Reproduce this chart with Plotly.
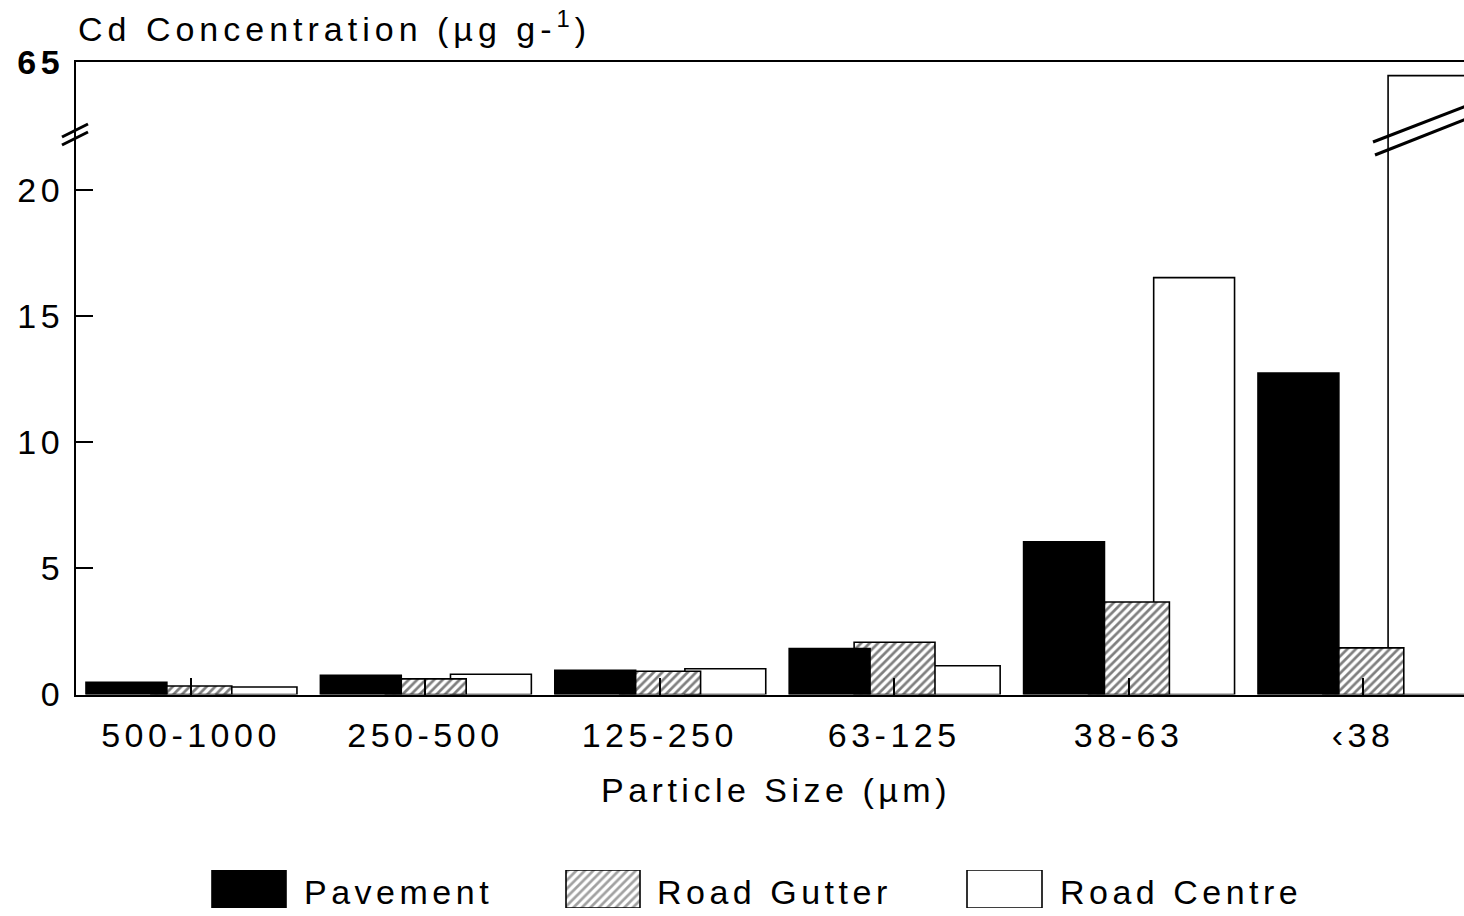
import plotly.graph_objects as go

# Cd concentration by particle size fraction (µg g-1)
size_classes = ["500-1000", "250-500", "125-250", "63-125", "38-63", "‹38"]
pavement = [0.48, 0.76, 0.96, 1.82, 6.05, 12.75]
road_gutter = [0.34, 0.62, 0.92, 2.07, 3.67, 1.85]
road_centre = [0.30, 0.80, 1.02, 1.14, 16.53, 64.0]

y_ticks_low = [0, 5, 10, 15, 20]
y_ticks_high = [65]

W, H = 1464, 916
FONT = "Liberation Sans"
SP = "letter-spacing:4.5px"


def spaced(t, sp=SP):
    return f'<span style="{sp}">{t}</span>'


def px_x(p):
    return p / W


def px_y(p):
    return 1 - p / H


# plot frame (pixels)
x_left = 76
y_zero, y_break, y_top = 694.5, 130, 62
unit_px = 25.22
cat_px = 234.4
first_tick = 191

x_range = [-(first_tick - x_left) / cat_px, -(first_tick - x_left) / cat_px + (W - x_left) / cat_px]
low_range = [0, (y_zero - y_break) / unit_px]
high_range = [60, 65]

bar_w = 0.345
offsets = {"Road Centre": 0.107, "Road Gutter": -0.171, "Pavement": -0.448}
hatch = dict(shape="/", fgcolor="black", bgcolor="white", size=6, solidity=0.45)
styles = {
    "Pavement": dict(color="black", pattern=dict(shape="")),
    "Road Gutter": dict(color="white", pattern=hatch),
    "Road Centre": dict(color="white", pattern=dict(shape="")),
}
series = [("Road Centre", road_centre), ("Road Gutter", road_gutter), ("Pavement", pavement)]

fig = go.Figure()
for xa, ya in (("x", "y"), ("x2", "y2")):
    for name, vals in series:
        st = styles[name]
        fig.add_trace(go.Bar(
            x=size_classes, y=vals, name=name, xaxis=xa, yaxis=ya,
            width=bar_w, offset=offsets[name], showlegend=False,
            marker=dict(color=st["color"], pattern=st["pattern"],
                        line=dict(color="black", width=1.6)),
        ))

# legend swatches on their own pixel-scaled axis
legend_names = ["Pavement", "Road Gutter", "Road Centre"]
fig.add_trace(go.Bar(
    x=[249, 603, 1004.5], y=[1, 1, 1], width=[74, 74, 75],
    xaxis="x3", yaxis="y3", showlegend=False, hoverinfo="skip",
    marker=dict(color=["black", "white", "white"],
                pattern=dict(shape=["", "/", ""], fgcolor="black", bgcolor="white",
                             size=hatch["size"], solidity=hatch["solidity"]),
                line=dict(color="black", width=1.6)),
))

tick_font = dict(family=FONT, size=34, color="black")
fig.update_layout(
    width=W, height=H,
    margin=dict(l=0, r=0, t=0, b=0),
    paper_bgcolor="white", plot_bgcolor="rgba(0,0,0,0)",
    barmode="overlay",
    font=dict(family=FONT, color="black"),
    xaxis=dict(domain=[px_x(x_left), 1], anchor="y", range=x_range,
               type="category", categoryorder="array", categoryarray=size_classes,
               tickvals=size_classes, ticktext=[spaced(c) for c in size_classes],
               showline=True, linecolor="black", linewidth=2,
               ticks="inside", ticklen=17, tickwidth=2, tickcolor="black",
               tickfont=tick_font, ticklabelstandoff=10,
               showgrid=False, zeroline=False, automargin=False),
    yaxis=dict(domain=[px_y(y_zero), px_y(y_break)], anchor="x", range=low_range,
               tickvals=y_ticks_low, ticktext=[spaced(v) for v in y_ticks_low],
               showline=True, linecolor="black", linewidth=2,
               ticks="inside", ticklen=17, tickwidth=2, tickcolor="black",
               tickfont=tick_font, ticklabelstandoff=3,
               showgrid=False, zeroline=False, automargin=False),
    xaxis2=dict(domain=[px_x(x_left), 1], anchor="y2", range=x_range, matches="x",
                type="category", side="top", showticklabels=False, ticks="",
                showline=True, linecolor="black", linewidth=2,
                showgrid=False, zeroline=False, automargin=False),
    yaxis2=dict(domain=[px_y(y_break), px_y(y_top)], anchor="x2", range=high_range,
                tickvals=y_ticks_high, ticktext=[spaced(f"<b>{v}</b>") for v in y_ticks_high],
                showline=True, linecolor="black", linewidth=2, ticks="",
                tickfont=tick_font, ticklabelstandoff=3,
                showgrid=False, zeroline=False, automargin=False),
    xaxis3=dict(domain=[0, 1], anchor="y3", range=[0, W], visible=False, fixedrange=True),
    yaxis3=dict(domain=[px_y(908), px_y(870)], anchor="x3", range=[0, 1], visible=False,
                fixedrange=True),
)

# axis break marks on the y axis and across the tall bar
breaks = [
    ((62, 137), (88, 124)), ((62, 145), (88, 132)),
    ((1373, 142), (1466, 106)), ((1375, 155), (1466, 119)),
]
for (x0, y0), (x1, y1) in breaks:
    fig.add_shape(type="line", xref="paper", yref="paper",
                  x0=px_x(x0), y0=px_y(y0), x1=px_x(x1), y1=px_y(y1),
                  line=dict(color="black", width=3))

texts = [
    (x_left, 27, "left", spaced("Cd Concentration (µg g-<sup>1</sup>)", "letter-spacing:5px")),
    (776, 790, "center", spaced("Particle Size (µm)")),
    (302, 892, "left", spaced(legend_names[0])),
    (655, 892, "left", spaced(legend_names[1])),
    (1058, 892, "left", spaced(legend_names[2])),
]
for x, y, anchor, t in texts:
    fig.add_annotation(x=px_x(x), y=px_y(y), xref="paper", yref="paper",
                       xanchor=anchor, yanchor="middle", text=t, showarrow=False,
                       font=dict(family=FONT, size=34, color="black"))

fig.write_html("out.html")
